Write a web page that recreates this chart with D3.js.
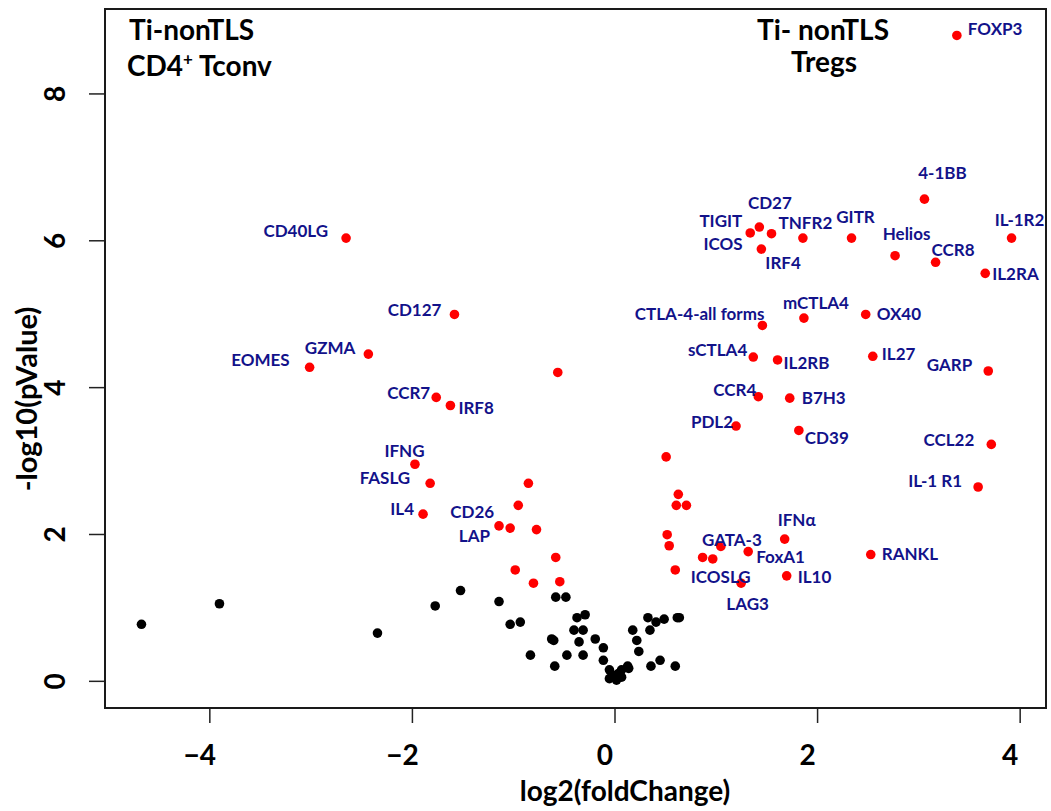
<!DOCTYPE html>
<html><head><meta charset="utf-8">
<script src="https://cdn.jsdelivr.net/npm/d3@7/dist/d3.min.js"></script>
<style>
body{margin:0;background:#fff}
text{font-family:Lato,"Open Sans",sans-serif;font-weight:700}
</style>
</head><body>
<svg id="chart" width="1051" height="811"></svg>
<script>
// ---------- data ----------
// significant genes (red); "" = unlabeled
const sigNames = ["FOXP3","4-1BB","CD27","TIGIT","ICOS","TNFR2","IRF4","GITR","Helios","CCR8","IL-1R2","IL2RA",
  "CTLA-4-all forms","mCTLA4","OX40","sCTLA4","IL2RB","IL27","GARP","CCR4","B7H3","PDL2","CD39","CCL22","IL-1 R1",
  "IFN\u03b1","GATA-3","FoxA1","RANKL","IL10","ICOSLG","LAG3","","","","","","","","",
  "CD40LG","CD127","GZMA","EOMES","","CCR7","IRF8","IFNG","FASLG","IL4","CD26","LAP","","","","","","",""];
const sigLog2FC = [3.38,3.06,1.43,1.34,1.55,1.86,1.45,2.34,2.77,3.17,3.92,3.66,
  1.46,1.87,2.48,1.37,1.61,2.55,3.69,1.42,1.73,1.20,1.82,3.72,3.59,
  1.68,1.05,1.32,2.53,1.70,0.97,1.25,0.51,0.63,0.61,0.71,0.52,0.54,0.87,0.60,
  -2.65,-1.58,-2.43,-3.01,-0.56,-1.76,-1.62,-1.97,-1.82,-1.89,-1.03,-1.14,-0.85,-0.95,-0.77,-0.58,-0.98,-0.80,-0.54];
const sigNegLog10P = [8.79,6.56,6.18,6.10,6.09,6.03,5.88,6.03,5.79,5.70,6.03,5.55,
  4.84,4.94,4.99,4.41,4.37,4.42,4.22,3.87,3.85,3.47,3.41,3.22,2.64,
  1.93,1.83,1.76,1.72,1.43,1.66,1.33,3.05,2.54,2.39,2.39,1.99,1.84,1.68,1.51,
  6.03,4.99,4.45,4.27,4.20,3.86,3.75,2.95,2.69,2.27,2.08,2.11,2.69,2.39,2.06,1.68,1.51,1.33,1.35];

// non-significant genes (black)
const nsLog2FC = [-4.67,-3.90,-2.34,-1.77,-1.52,-1.14,-1.03,-0.93,-0.83,-0.60,-0.62,-0.59,-0.58,-0.48,-0.47,
  -0.40,-0.31,-0.37,-0.29,-0.35,-0.31,-0.19,-0.11,-0.11,-0.05,0.07,-0.05,0.02,0.07,0.13,0.14,-0.02,0.04,
  0.18,0.22,0.24,0.35,0.33,0.41,0.49,0.62,0.64,0.36,0.45,0.60];
const nsNegLog10P = [0.77,1.05,0.65,1.02,1.23,1.08,0.77,0.80,0.35,0.55,0.57,0.20,1.14,1.14,0.35,
  0.69,0.69,0.86,0.90,0.53,0.35,0.57,0.45,0.28,0.15,0.15,0.03,0.01,0.05,0.20,0.17,0.08,0.10,
  0.69,0.55,0.40,0.69,0.86,0.80,0.84,0.86,0.86,0.20,0.28,0.20];

const xTicks = [-4,-2,0,2,4];
const yTicks = [0,2,4,6,8];
const xLim = [-5.03, 4.26];
const yLim = [-0.37, 9.15];

// ---------- label layout (anchor, dx px, dy px) ----------
const labelLayout = {
  "FOXP3":["start",11,-7], "4-1BB":["middle",18,-26], "CD27":["middle",10.5,-24], "TIGIT":["end",-8,-12],
  "ICOS":["end",-29,10], "TNFR2":["middle",2.5,-15], "IRF4":["start",4,14], "GITR":["middle",4,-21],
  "Helios":["middle",11.5,-22], "CCR8":["start",-4,-12], "IL-1R2":["middle",8,-18], "IL2RA":["start",7,1],
  "CTLA-4-all forms":["end",2,-12], "mCTLA4":["middle",12,-15], "OX40":["start",11,-1], "sCTLA4":["end",-6,-7],
  "IL2RB":["start",6,3], "IL27":["start",9,-2], "GARP":["end",-16,-6], "CCR4":["end",-2,-7], "B7H3":["start",12,0],
  "PDL2":["end",-3,-4], "CD39":["start",6,7], "CCL22":["end",-17,-5], "IL-1 R1":["end",-16,-6],
  "IFN\u03b1":["middle",12,-19], "GATA-3":["middle",11,-7], "FoxA1":["start",8,5], "RANKL":["start",11,-1],
  "IL10":["start",11,1], "ICOSLG":["middle",8,18], "LAG3":["middle",6.5,21],
  "CD40LG":["end",-18,-7], "CD127":["end",-13,-5], "GZMA":["end",-13,-6], "EOMES":["end",-20,-7],
  "CCR7":["end",-6,-5], "IRF8":["start",8,2], "IFNG":["middle",-10.5,-13], "FASLG":["end",-20,-5],
  "IL4":["end",-9,-5], "CD26":["end",-16,-16], "LAP":["end",-9,10]
};

// ---------- drawing ----------
const svg = d3.select("#chart");
const plot = {left:105, right:1046, top:9, bottom:708};
const x = d3.scaleLinear().domain(xLim).range([plot.left, plot.right]);
const y = d3.scaleLinear().domain(yLim).range([plot.bottom, plot.top]);

const sig = sigNames.map((n,i)=>({name:n, fc:sigLog2FC[i], p:sigNegLog10P[i]}));
const ns = nsLog2FC.map((v,i)=>({fc:v, p:nsNegLog10P[i]}));

// axes
const xAxis = svg.append("g").attr("transform",`translate(0,${plot.bottom})`)
  .call(d3.axisBottom(x).tickValues(xTicks).tickSize(15).tickFormat(d3.format("d")));
xAxis.select(".domain").remove();
xAxis.selectAll("line").attr("stroke","#222").attr("stroke-width",1.5);
xAxis.selectAll("text").attr("font-size",28).attr("fill","#000").attr("dy",null)
  .attr("x",-10).attr("y",57);

const yAxis = svg.append("g").attr("transform",`translate(${plot.left},0)`)
  .call(d3.axisLeft(y).tickValues(yTicks).tickSize(16).tickFormat(d3.format("d")));
yAxis.select(".domain").remove();
yAxis.selectAll("line").attr("stroke","#222").attr("stroke-width",1.5);
yAxis.selectAll("text").attr("font-size",28).attr("fill","#000")
  .attr("x",null).attr("dy",null).attr("text-anchor","middle")
  .attr("transform","translate(-50,0) rotate(-90)").attr("y",10);

// frame
svg.append("rect").attr("x",plot.left).attr("y",plot.top)
  .attr("width",plot.right-plot.left).attr("height",plot.bottom-plot.top)
  .attr("fill","none").attr("stroke","#1a1a1a").attr("stroke-width",2);

// axis titles
svg.append("text").attr("x",625).attr("y",801).attr("text-anchor","middle")
  .attr("font-size",28).text("log2(foldChange)");
svg.append("text").attr("transform","translate(27,399) rotate(-90)").attr("dy","0.35em")
  .attr("text-anchor","middle").attr("font-size",29).text("-log10(pValue)");

// points
svg.append("g").selectAll("circle").data(ns).join("circle")
  .attr("cx",d=>x(d.fc)).attr("cy",d=>y(d.p)).attr("r",4.8).attr("fill","#000");
svg.append("g").selectAll("circle").data(sig).join("circle")
  .attr("cx",d=>x(d.fc)).attr("cy",d=>y(d.p)).attr("r",4.8).attr("fill","#ff0000");

// gene labels
svg.append("g").selectAll("text").data(sig.filter(d=>d.name!=="")).join("text")
  .attr("x",d=>x(d.fc)+labelLayout[d.name][1])
  .attr("y",d=>y(d.p)+labelLayout[d.name][2])
  .attr("dy","0.36em")
  .attr("text-anchor",d=>labelLayout[d.name][0])
  .attr("font-size",17).attr("fill","#12128a")
  .text(d=>d.name);

// panel titles
svg.append("text").attr("x",129).attr("y",40).attr("font-size",28).text("Ti-nonTLS");
const t2 = svg.append("text").attr("x",127).attr("y",76).attr("font-size",28);
t2.append("tspan").text("CD4");
t2.append("tspan").attr("font-size",17).attr("dy",-11).text("+");
t2.append("tspan").attr("dy",11).text(" Tconv");
svg.append("text").attr("x",823).attr("y",40).attr("text-anchor","middle").attr("font-size",28).text("Ti- nonTLS");
svg.append("text").attr("x",824).attr("y",72).attr("text-anchor","middle").attr("font-size",28).text("Tregs");
</script>
</body></html>
